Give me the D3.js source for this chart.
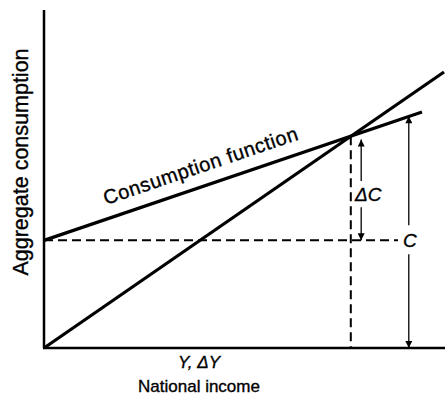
<!DOCTYPE html>
<meta charset="utf-8">
<script src="https://d3js.org/d3.v7.min.js"></script>
<style>
  body { margin: 0; background: #fff; }
  text { font-family: "Liberation Sans", Arial, Helvetica, sans-serif; fill: #000; stroke: #000; stroke-width: 0.35px; }
</style>
<svg width="445" height="403"></svg>
<script>
// values (model units)
var axisX = [0, 10];              // national income axis
var axisY = [0, 12.25];           // aggregate consumption axis
var line45 = [[0, 0], [10, 10]];  // income = consumption
var consumption = [[0, 3.9], [9.45, 8.55]];
var autonomous = 3.9;
var equilibrium = [7.67, 7.67];
var dashEnd = 8.85;
var deltaArrow = {x: 7.93, top: 7.55, bottom: 3.9, gap: [6.05, 5.1]};
var cArrow = {x: 9.12, top: 8.4, bottom: 0, gap: [4.45, 3.4]};

var svg = d3.select("svg");

var x = d3.scaleLinear().domain([0, 10]).range([44, 444]);
var y = d3.scaleLinear().domain([0, 10]).range([348, 72]);

var line = d3.line()
    .x(function(d) { return x(d[0]); })
    .y(function(d) { return y(d[1]); });

var defs = svg.append("defs");
defs.append("marker")
    .attr("id", "head")
    .attr("viewBox", "0 0 10 10")
    .attr("refX", 10).attr("refY", 5)
    .attr("markerUnits", "userSpaceOnUse")
    .attr("markerWidth", 12).attr("markerHeight", 7)
    .attr("orient", "auto")
  .append("path")
    .attr("d", "M0,0L10,5L0,10Z")
    .attr("fill", "#000");

// axes
svg.append("line")
    .attr("x1", x(0)).attr("x2", x(0))
    .attr("y1", y(axisY[0])).attr("y2", y(axisY[1]))
    .attr("stroke", "#000").attr("stroke-width", 2.5);
svg.append("line")
    .attr("x1", x(axisX[0]) - 1).attr("x2", x(axisX[1]) + 1)
    .attr("y1", y(0)).attr("y2", y(0))
    .attr("stroke", "#000").attr("stroke-width", 2.5);

// dashed guides
svg.append("line")
    .attr("x1", x(0)).attr("x2", x(dashEnd))
    .attr("y1", y(autonomous)).attr("y2", y(autonomous))
    .attr("stroke", "#000").attr("stroke-width", 2)
    .attr("stroke-dasharray", "9,5");
svg.append("line")
    .attr("x1", x(equilibrium[0])).attr("x2", x(equilibrium[0]))
    .attr("y1", y(equilibrium[1])).attr("y2", y(0))
    .attr("stroke", "#000").attr("stroke-width", 2)
    .attr("stroke-dasharray", "9,5");

// main lines
svg.append("path").datum(line45)
    .attr("d", line)
    .attr("fill", "none").attr("stroke", "#000").attr("stroke-width", 3.2);
svg.append("path").datum(consumption)
    .attr("d", line)
    .attr("fill", "none").attr("stroke", "#000").attr("stroke-width", 3.2);

// double arrows with a gap for the label
function arrow(a) {
  svg.append("line")
      .attr("x1", x(a.x)).attr("x2", x(a.x))
      .attr("y1", y(a.gap[0])).attr("y2", y(a.top))
      .attr("stroke", "#000").attr("stroke-width", 1.3)
      .attr("marker-end", "url(#head)");
  svg.append("line")
      .attr("x1", x(a.x)).attr("x2", x(a.x))
      .attr("y1", y(a.gap[1])).attr("y2", y(a.bottom))
      .attr("stroke", "#000").attr("stroke-width", 1.3)
      .attr("marker-end", "url(#head)");
}
arrow(deltaArrow);
arrow(cArrow);

svg.append("text")
    .attr("x", x(deltaArrow.x) + 7).attr("y", y((deltaArrow.gap[0] + deltaArrow.gap[1]) / 2) + 7)
    .attr("text-anchor", "middle")
    .style("font-size", "19px").style("font-style", "italic")
    .text("\u0394C");
svg.append("text")
    .attr("x", x(cArrow.x) + 1).attr("y", y(autonomous) + 7)
    .attr("text-anchor", "middle")
    .style("font-size", "19px").style("font-style", "italic")
    .text("C");

// label along the consumption function
var ang = Math.atan2(y(consumption[1][1]) - y(consumption[0][1]), x(consumption[1][0]) - x(consumption[0][0])) * 180 / Math.PI;
svg.append("text")
    .attr("transform", "translate(" + x(1.55) + "," + y(5.18) + ") rotate(" + ang + ")")
    .style("font-size", "20px")
    .attr("textLength", 204).attr("lengthAdjust", "spacing")
    .text("Consumption function");

// axis titles
svg.append("text")
    .attr("transform", "translate(28," + 162 + ") rotate(-90)")
    .attr("text-anchor", "middle")
    .style("font-size", "21.5px")
    .text("Aggregate consumption");
svg.append("text")
    .attr("x", 199).attr("y", 368)
    .attr("text-anchor", "middle")
    .style("font-size", "17px").style("font-style", "italic")
    .text("Y, \u0394Y");
svg.append("text")
    .attr("x", 199).attr("y", 392)
    .attr("text-anchor", "middle")
    .style("font-size", "17px")
    .text("National income");
</script>
